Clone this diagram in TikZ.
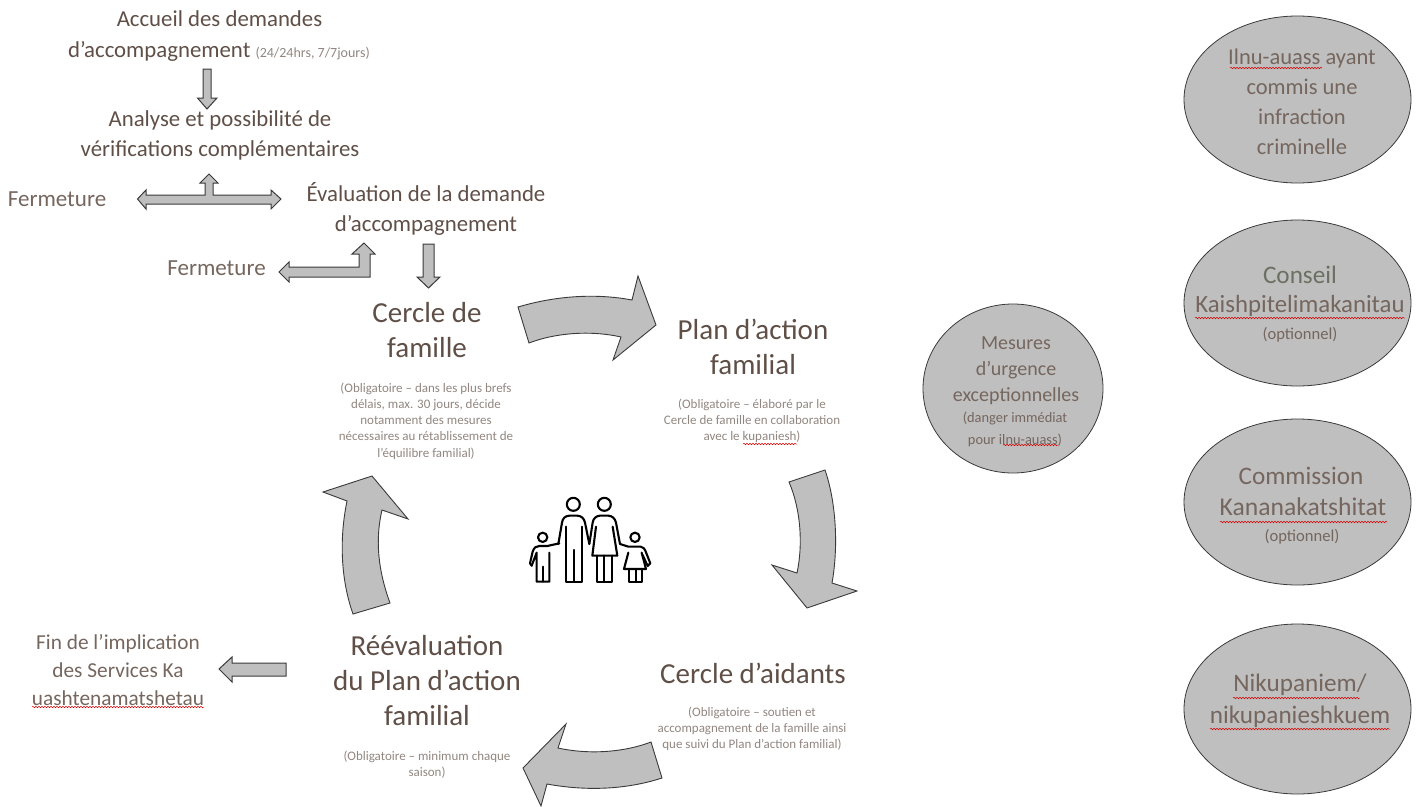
\documentclass[tikz,border=0pt]{standalone}
\usepackage{fontspec}
\setmainfont{Carlito}
\usetikzlibrary{shapes.geometric,decorations.pathmorphing}
\definecolor{hd}{HTML}{5F4F47}
\definecolor{md}{HTML}{75665E}
\definecolor{lt}{HTML}{928680}
\definecolor{gn}{HTML}{6B7062}
\definecolor{fl}{HTML}{BFBFBF}
\definecolor{ln}{HTML}{3A3A3A}
\tikzset{
 x=1pt,y=-1pt,
 huge/.style={font=\fontsize{29}{35}\selectfont,text=hd,align=center,inner sep=0pt},
 mid/.style={font=\fontsize{22.8}{30}\selectfont,text=hd,align=center,inner sep=0pt},
 ferm/.style={font=\fontsize{23}{28}\selectfont,text=md,align=center,inner sep=0pt},
 finstyle/.style={font=\fontsize{21.3}{28}\selectfont,text=md,align=center,inner sep=0pt},
 tiny/.style={font=\fontsize{13}{16.2}\selectfont,text=lt,align=center,inner sep=0pt},
 ell/.style={draw=ln,fill=fl,line width=.8pt,shape=ellipse,inner sep=0pt},
 etxt/.style={font=\fontsize{25.2}{32}\selectfont,text=md,align=center,inner sep=0pt},
 etiny/.style={font=\fontsize{16.6}{20}\selectfont,text=md,align=center,inner sep=0pt},
 blockarrow/.style={draw=ln,fill=fl,line width=.9pt,line join=miter},
 smallarrow/.style={draw=ln,fill=fl,line width=1pt,line join=miter},
 squig/.style={draw=red!85!black,line width=.5pt,decorate,decoration={snake,amplitude=.7pt,segment length=3pt}},
 icon/.style={draw=black,line width=2.1pt,line join=round,line cap=round},
}
\begin{document}
\begin{tikzpicture}
\useasboundingbox (0,0) rectangle (1419,806);
% small block arrows
\draw[smallarrow] (203,69) -- (211,69) -- (211,98) -- (217,98) -- (207,109) -- (197.5,98) -- (203,98) -- cycle;
\draw[smallarrow] (137.5,199) -- (146,190) -- (146,195) -- (205,195) -- (205,183) -- (200,183) -- (209,174) -- (218,183) -- (213,183) -- (213,195) -- (271,195) -- (271,190) -- (281,199) -- (271,209) -- (271,204) -- (146,204) -- (146,209) -- cycle;
\draw[smallarrow] (279,272) -- (289,262) -- (289,267) -- (359,267) -- (359,254) -- (352,254) -- (364,243) -- (375,254) -- (370,254) -- (370,277) -- (289,277) -- (289,282) -- cycle;
\draw[smallarrow] (423,244) -- (434,244) -- (434,277) -- (440,277) -- (428.5,288) -- (417,277) -- (423,277) -- cycle;
\draw[smallarrow] (219,669) -- (232,657) -- (232,663) -- (286,663) -- (286,676) -- (232,676) -- (232,682) -- cycle;
% curved block arrows
\draw[blockarrow] (518,307) .. controls (555,296) and (595,293) .. (632,300) -- (638,276) -- (656,325) -- (613,360) -- (621,337) .. controls (590,330) and (555,333) .. (529,343) -- cycle;
\draw[blockarrow] (789,482) -- (825,470) .. controls (837,505) and (838,550) .. (832,583) -- (857,591) -- (807,608) -- (772,565) -- (797,573) .. controls (803,545) and (801,510) .. (789,482) -- cycle;
\draw[blockarrow] (651,742) -- (662,778) .. controls (625,790) and (585,791) .. (547,784) -- (541,806) -- (523,768) -- (566,724) -- (558,748) .. controls (590,755) and (625,752) .. (651,742) -- cycle;
\draw[blockarrow] (353,614) -- (390,603) .. controls (378,570) and (375,540) .. (382,510) -- (408,519) -- (372,476) -- (323,492) -- (347,501) .. controls (339,540) and (341,580) .. (353,614) -- cycle;
% ellipses
\node[ell,minimum width=227pt,minimum height=167pt] (e1) at (1297.5,99.5) {};
\node[ell,minimum width=227pt,minimum height=166pt] (e2) at (1297.5,303) {};
\node[ell,minimum width=227pt,minimum height=166pt] (e3) at (1297.5,502) {};
\node[ell,minimum width=227pt,minimum height=170pt] (e4) at (1297.5,709) {};
\node[ell,minimum width=180pt,minimum height=169pt] (e5) at (1013,388.5) {};
% texts
\node[mid] (t1) at (219.5,19) {Accueil des demandes};
\node[mid,anchor=base west] (t2) at (68,57) {d’accompagnement {\fontsize{14}{16}\selectfont\color{lt}(24/24hrs, 7/7jours)}};
\node[mid] (t3) at (220,135) {Analyse et possibilité de\\vérifications complémentaires};
\node[ferm] (f1) at (57,199) {Fermeture};
\node[ferm] (f2) at (216.5,268) {Fermeture};
\node[mid] (t4) at (426,209) {Évaluation de la demande\\d’accompagnement};
\node[huge] (c1) at (427,330) {Cercle de\\famille};
\node[tiny] (c1s) at (426,421) {(Obligatoire – dans les plus brefs\\délais, max. 30 jours, décide\\notamment des mesures\\nécessaires au rétablissement de\\l'équilibre familial)};
\node[huge] (c2) at (753,347) {Plan d’action\\familial};
\node[tiny] (c2s) at (752,421) {(Obligatoire – élaboré par le\\Cercle de famille en collaboration\\avec le kupaniesh)};
\node[huge] (c3) at (753,673) {Cercle d’aidants};
\node[tiny] (c3s) at (752,729) {(Obligatoire – soutien et\\accompagnement de la famille ainsi\\que suivi du Plan d’action familial)};
\node[huge] (c4) at (427,681) {Réévaluation\\du Plan d’action\\familial};
\node[tiny] (c4s) at (427,765) {(Obligatoire – minimum chaque\\saison)};
\node[finstyle] (fin) at (118,670.5) {Fin de l’implication\\des Services Ka\\uashtenamatshetau};
\node[etxt,font=\fontsize{22.5}{30}\selectfont] (x1) at (1302,101.5) {Ilnu-auass ayant\\commis une\\infraction\\criminelle};
\node[etxt,text=gn] (x2a) at (1300,275) {Conseil};
\node[etxt,font=\fontsize{24.8}{32}\selectfont] (x2b) at (1300,306) {Kaishpitelimakanitau};
\node[etiny] (x2c) at (1300,335) {(optionnel)};
\node[etxt] (x3a) at (1301,476) {Commission};
\node[etxt,font=\fontsize{25.6}{32}\selectfont] (x3b) at (1303,507) {Kananakatshitat};
\node[etiny] (x3c) at (1302,537) {(optionnel)};
\node[etxt] (x4) at (1300,700.5) {Nikupaniem/\\nikupanieshkuem};
\node[font=\fontsize{20}{26}\selectfont,text=md,align=center,inner sep=0pt] (x5a) at (1016,371) {Mesures\\d’urgence\\exceptionnelles};
\node[font=\fontsize{14.4}{22}\selectfont,text=md,align=center,inner sep=0pt] (x5b) at (1015,429) {(danger immédiat\\pour ilnu-auass)};
% spell-check underlines
\draw[squig] (743,444) -- (797,444);
\draw[squig] (32,707) -- (204,707);
\draw[squig] (1230,68) -- (1322,68);
\draw[squig] (1195,318) -- (1405,318);
\draw[squig] (1220,522) -- (1387,522);
\draw[squig] (1233,698) -- (1360,698);
\draw[squig] (1210,729) -- (1390,729);
\draw[squig] (1003,445) -- (1058,445);
% family icon
\begin{scope}[shift={(510,400)},x=.3333pt,y=-.3333pt]
\draw[icon] (190,313) circle[radius=19.5];
\draw[icon] (283,313) circle[radius=19.5];
\draw[icon] (98,412) circle[radius=14];
\draw[icon] (375,412) circle[radius=14];
\draw[icon] (145,432) -- (156,368) .. controls (158,355) and (165,348) .. (178,347) -- (202,347) .. controls (215,348) and (222,355) .. (225,368) -- (238,432);
\draw[icon] (168,380) -- (168,545) -- (215,545) -- (215,380);
\draw[icon] (192,450) -- (192,545);
\draw[icon] (238,432) -- (248,368) .. controls (250,355) and (258,348) .. (270,347) -- (295,347) .. controls (307,348) and (315,355) .. (318,368) -- (330,432);
\draw[icon] (258,380) -- (247,467) -- (322,467) -- (308,380);
\draw[icon] (262,467) -- (262,545) -- (305,545) -- (305,467);
\draw[icon] (283,467) -- (283,545);
\draw[icon] (65,497) -- (60,490) -- (68,455) .. controls (72,443) and (78,438) .. (88,438) -- (112,438) -- (148,430);
\draw[icon] (65,497) -- (80,458) -- (80,545) -- (118,545) -- (118,458);
\draw[icon] (100,500) -- (100,545);
\draw[icon] (330,432) -- (355,440) -- (392,440) .. controls (400,441) and (404,447) .. (406,452) -- (421,490) -- (413,498) -- (398,465);
\draw[icon] (355,458) -- (342,507) -- (408,507) -- (395,458);
\draw[icon] (358,507) -- (358,545) -- (395,545) -- (395,507);
\draw[icon] (377,507) -- (377,545);
\end{scope}
\end{tikzpicture}
\end{document}
